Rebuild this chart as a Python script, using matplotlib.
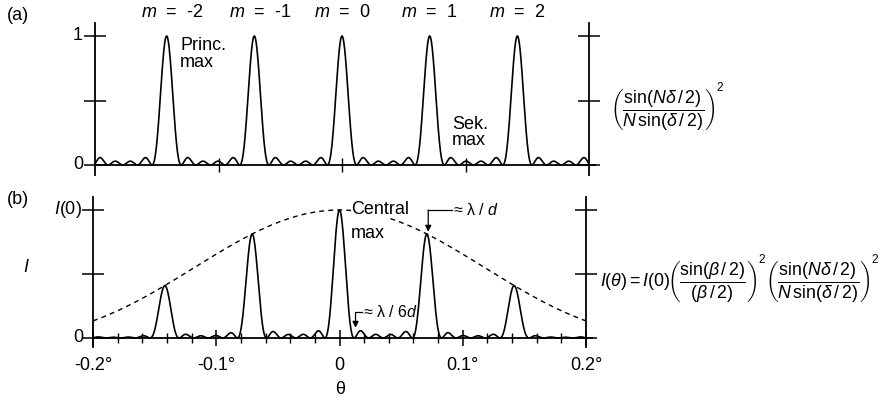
import numpy as np
import matplotlib
matplotlib.use("Agg")
import matplotlib.pyplot as plt

plt.rcParams["font.family"] = ["Liberation Sans", "DejaVu Sans"]
plt.rcParams["mathtext.fontset"] = "custom"
plt.rcParams["mathtext.rm"] = "Liberation Sans"
plt.rcParams["mathtext.it"] = "Liberation Sans:italic"
plt.rcParams["mathtext.bf"] = "Liberation Sans:bold"

# values
n_slits = 6                      # 4 secondary maxima between principal ones
order_spacing = 0.071            # deg, lambda / d
envelope_zero = 0.285            # deg, first zero of single slit envelope
orders = [-2, -1, 0, 1, 2]
order_labels = ["$m$  =  -2", "$m$  =  -1", "$m$  =  0", "$m$  =  1", "$m$  =  2"]
x_ticks_major = [-0.2, -0.1, 0.0, 0.1, 0.2]
x_tick_labels = ["-0.2°", "-0.1°", "0", "0.1°", "0.2°"]
x_ticks_minor = np.round(np.arange(-0.2, 0.2001, 0.02), 3)

W, H = 883, 399
fig = plt.figure(figsize=(W / 100, H / 100), dpi=100)
renderer = fig.canvas.get_renderer()


def px_axes(x0, x1, y0, y1):
    return fig.add_axes([x0 / W, 1 - y1 / H, (x1 - x0) / W, (y1 - y0) / H])


def ftext(x, y, s, **kw):
    return fig.text(x / W, 1 - y / H, s, **kw)


def chain(x, pieces):
    # pieces: (text, y centre in px, font size, gap after); left to right
    for s, y, size, gap in pieces:
        t = ftext(x, y, s, fontsize=size, va="center", ha="left")
        x = t.get_window_extent(renderer).x1 + gap


theta = np.linspace(-0.2, 0.2, 4001)
half_delta = np.pi * theta / order_spacing
den = n_slits * np.sin(half_delta)
safe = np.abs(den) > 1e-9
grating = np.ones_like(theta)
grating[safe] = (np.sin(n_slits * half_delta[safe]) / den[safe]) ** 2
envelope = np.sinc(theta / envelope_zero) ** 2
intensity = envelope * grating

lw = 1.2
fs = 13

# ---- panel (a)
ax_a = px_axes(95, 589, 10, 180)
ax_a.set_xlim(-0.2, 0.2)
ax_a.set_ylim((165 - 180) / 129, (165 - 10) / 129)
ax_a.plot(theta, grating, color="black", lw=lw)

# ---- panel (b)
ax_b = px_axes(93, 586, 190, 352)
ax_b.set_xlim(-0.2, 0.2)
ax_b.set_ylim((338 - 352) / 128, (338 - 190) / 128)
ax_b.plot(theta, intensity, color="black", lw=lw)
ax_b.plot(theta, envelope, color="black", lw=1.0, ls=(0, (3.5, 3)))

for ax, lo, hi in [(ax_a, -0.078, 1.10), (ax_b, -0.07, 1.10)]:
    ax.patch.set_visible(False)
    ax.spines["top"].set_visible(False)
    for side in ["left", "right"]:
        ax.spines[side].set_bounds(lo, hi)
        ax.spines[side].set_linewidth(1.3)
    ax.spines["bottom"].set_position(("data", 0))
    ax.spines["bottom"].set_bounds(-0.2, 0.205)
    ax.spines["bottom"].set_linewidth(1.3)
    ax.set_yticks([0, 0.5, 1])
    ax.set_yticklabels([])
    ax.tick_params(axis="y", which="both", direction="inout", length=16,
                   width=1.1, left=True, right=True)

ax_a.set_xticks([-0.1, 0.0, 0.1])
ax_a.set_xticklabels([])
ax_a.tick_params(axis="x", direction="inout", length=10, width=1.0)

ax_b.set_xticks(x_ticks_major)
ax_b.set_xticklabels(x_tick_labels, fontsize=fs)
ax_b.set_xticks(x_ticks_minor, minor=True)
ax_b.tick_params(axis="x", which="major", direction="inout", length=11,
                 width=1.1, pad=8)
ax_b.tick_params(axis="x", which="minor", direction="inout", length=7,
                 width=1.0)

# labels panel (a)
ftext(7, 16, "(a)", fontsize=fs, va="center")
ftext(83, 36, "1", fontsize=fs, va="center", ha="right")
ftext(83, 165, "0", fontsize=fs, va="center", ha="right")
for m, lab in zip(orders, order_labels):
    shift = 0.005 if m < 0 else 0.0
    ax_a.text(m * order_spacing + shift, 1.12, lab,
              fontsize=fs, ha="center", va="bottom")
ax_a.text(-0.131, 0.99, "Princ.\nmax", fontsize=fs, va="top",
          linespacing=0.95)
ax_a.text(0.089, 0.38, "Sek.\nmax", fontsize=fs, va="top", linespacing=0.95)

grating_frac = (r"$\left(\dfrac{\sin(N\delta\,/\,2)}"
                r"{N\,\sin(\delta\,/\,2)}\right)$")
slit_frac = r"$\left(\dfrac{\sin(\beta\,/\,2)}{(\beta\,/\,2)}\right)$"
chain(610, [(grating_frac, 109, 12.8, 1), ("2", 88, 8.5, 0)])

# labels panel (b)
ftext(7, 200, "(b)", fontsize=fs, va="center")
ftext(82, 210, "$I$(0)", fontsize=fs, va="center", ha="right")
ftext(83, 337, "0", fontsize=fs, va="center", ha="right")
ftext(26, 268, "$I$", fontsize=fs, va="center", ha="center")
ftext(340, 390, "θ", fontsize=fs, va="center", ha="center")
ax_b.text(0.0095, 1.07, "Central", fontsize=fs, va="top",
          bbox=dict(facecolor="white", edgecolor="none", pad=0.3))
ax_b.text(0.0095, 0.88, "max", fontsize=fs, va="top")

# lambda / d marker
ax_b.plot([0.072, 0.091], [1.0, 1.0], color="black", lw=0.9)
ax_b.annotate("", xy=(0.072, 0.83), xytext=(0.072, 1.0),
              arrowprops=dict(arrowstyle="-|>", color="black", lw=0.9,
                              mutation_scale=9, shrinkA=0, shrinkB=0))
ax_b.text(0.092, 1.0, "≈ λ / $d$", fontsize=11.5, va="center")

# lambda / 6d marker
ax_b.plot([0.013, 0.018], [0.2, 0.2], color="black", lw=0.9)
ax_b.annotate("", xy=(0.013, 0.08), xytext=(0.013, 0.2),
              arrowprops=dict(arrowstyle="-|>", color="black", lw=0.9,
                              mutation_scale=9, shrinkA=0, shrinkB=0))
ax_b.text(0.019, 0.2, "≈ λ / 6$d$", fontsize=11.5, va="center")

chain(600, [(r"$I(\theta) = I(0)$", 282, 12.8, -3),
            (slit_frac, 282, 12.8, 1), ("2", 260, 8.5, 0),
            (grating_frac, 282, 12.8, 1), ("2", 260, 8.5, 0)])

fig.savefig("out.png", dpi=100)
